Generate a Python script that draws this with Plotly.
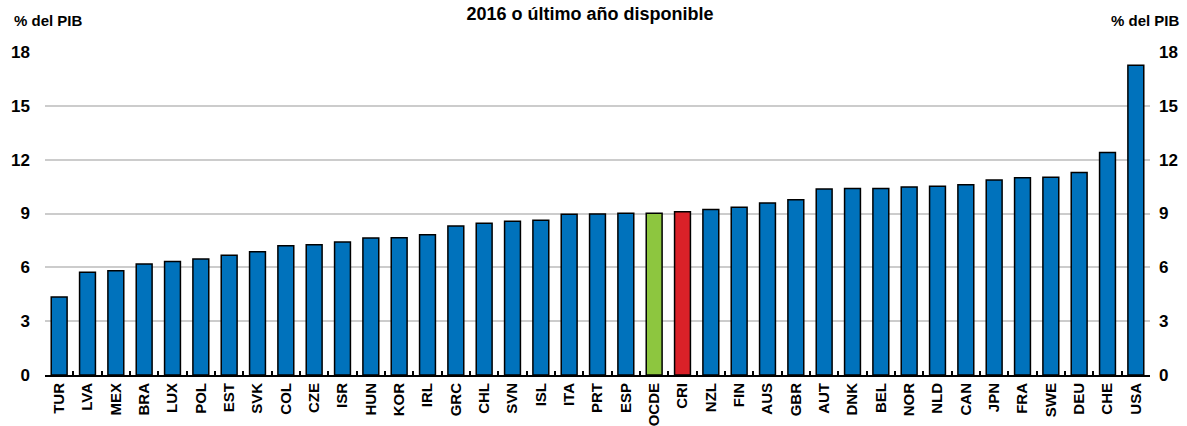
import plotly.graph_objects as go

countries = ["TUR", "LVA", "MEX", "BRA", "LUX", "POL", "EST", "SVK", "COL", "CZE",
             "ISR", "HUN", "KOR", "IRL", "GRC", "CHL", "SVN", "ISL", "ITA", "PRT",
             "ESP", "OCDE", "CRI", "NZL", "FIN", "AUS", "GBR", "AUT", "DNK", "BEL",
             "NOR", "NLD", "CAN", "JPN", "FRA", "SWE", "DEU", "CHE", "USA"]
values = [4.34, 5.72, 5.81, 6.18, 6.33, 6.46, 6.68, 6.87, 7.20, 7.26,
          7.41, 7.63, 7.65, 7.82, 8.30, 8.45, 8.57, 8.62, 8.96, 8.97,
          9.01, 9.01, 9.10, 9.22, 9.35, 9.59, 9.76, 10.37, 10.39, 10.39,
          10.47, 10.52, 10.60, 10.86, 10.99, 11.02, 11.28, 12.40, 17.26]
title_text = "2016 o último año disponible"
unit_label = "% del PIB"
y_ticks = [0, 3, 6, 9, 12, 15, 18]

BLUE = "#0072BC"
GREEN = "#8DC63F"
RED = "#DA2128"
colors = [GREEN if c == "OCDE" else RED if c == "CRI" else BLUE for c in countries]

FONT = "Liberation Sans Narrow, Arial Narrow, Liberation Sans, Arial, sans-serif"

fig = go.Figure()
fig.add_trace(go.Bar(
    x=countries, y=values,
    marker=dict(color=colors, line=dict(color="black", width=1.5)),
    hoverinfo="x+y",
))
fig.add_trace(go.Bar(
    x=countries, y=values, yaxis="y2",
    marker=dict(color="rgba(0,0,0,0)", line=dict(width=0)),
    hoverinfo="skip", showlegend=False,
))

fig.update_layout(
    width=1187, height=426,
    margin=dict(l=45, r=37, t=52, b=51, autoexpand=False),
    paper_bgcolor="white", plot_bgcolor="white",
    showlegend=False,
    bargap=0.44, barmode="overlay",
    font=dict(family=FONT, color="black", size=16),
    title=dict(text="<b>" + title_text + "</b>", x=0.497, xanchor="center",
               y=0.967, yanchor="middle", font=dict(size=18, family=FONT)),
    xaxis=dict(
        type="category", tickangle=-90, automargin=False,
        range=[-0.5, len(countries) - 0.5],
        tickvals=countries, ticktext=["<b>%s</b>" % c for c in countries],
        tickfont=dict(size=15, family=FONT),
        showline=True, linecolor="black", linewidth=2,
        ticks="inside", tickson="boundaries", ticklen=4, tickcolor="black", tickwidth=1.5,
        showgrid=False, fixedrange=True,
    ),
    yaxis=dict(
        range=[0, 18], tickvals=y_ticks, ticktext=["<b>%d</b>" % v for v in y_ticks],
        tickfont=dict(size=17, family=FONT), automargin=False,
        showgrid=True, gridcolor="#CCCCCC", gridwidth=2,
        zeroline=False, showline=False, ticks="", ticklabelstandoff=14,
    ),
    yaxis2=dict(
        range=[0, 18], tickvals=y_ticks, ticktext=["<b>%d</b>" % v for v in y_ticks],
        tickfont=dict(size=17, family=FONT), automargin=False,
        overlaying="y", side="right", showgrid=False, zeroline=False,
        showline=False, ticks="", ticklabelstandoff=8,
    ),
    annotations=[
        dict(text="<b>" + unit_label + "</b>", xref="paper", yref="paper",
             x=-0.0299, y=1.099, xanchor="left", yanchor="middle", showarrow=False,
             font=dict(size=15, family=FONT)),
        dict(text="<b>" + unit_label + "</b>", xref="paper", yref="paper",
             x=1.029, y=1.099, xanchor="right", yanchor="middle", showarrow=False,
             font=dict(size=15, family=FONT)),
    ],
)

fig.write_html("out.html", config={"displayModeBar": False},
               post_script="document.body.style.margin='0';")
